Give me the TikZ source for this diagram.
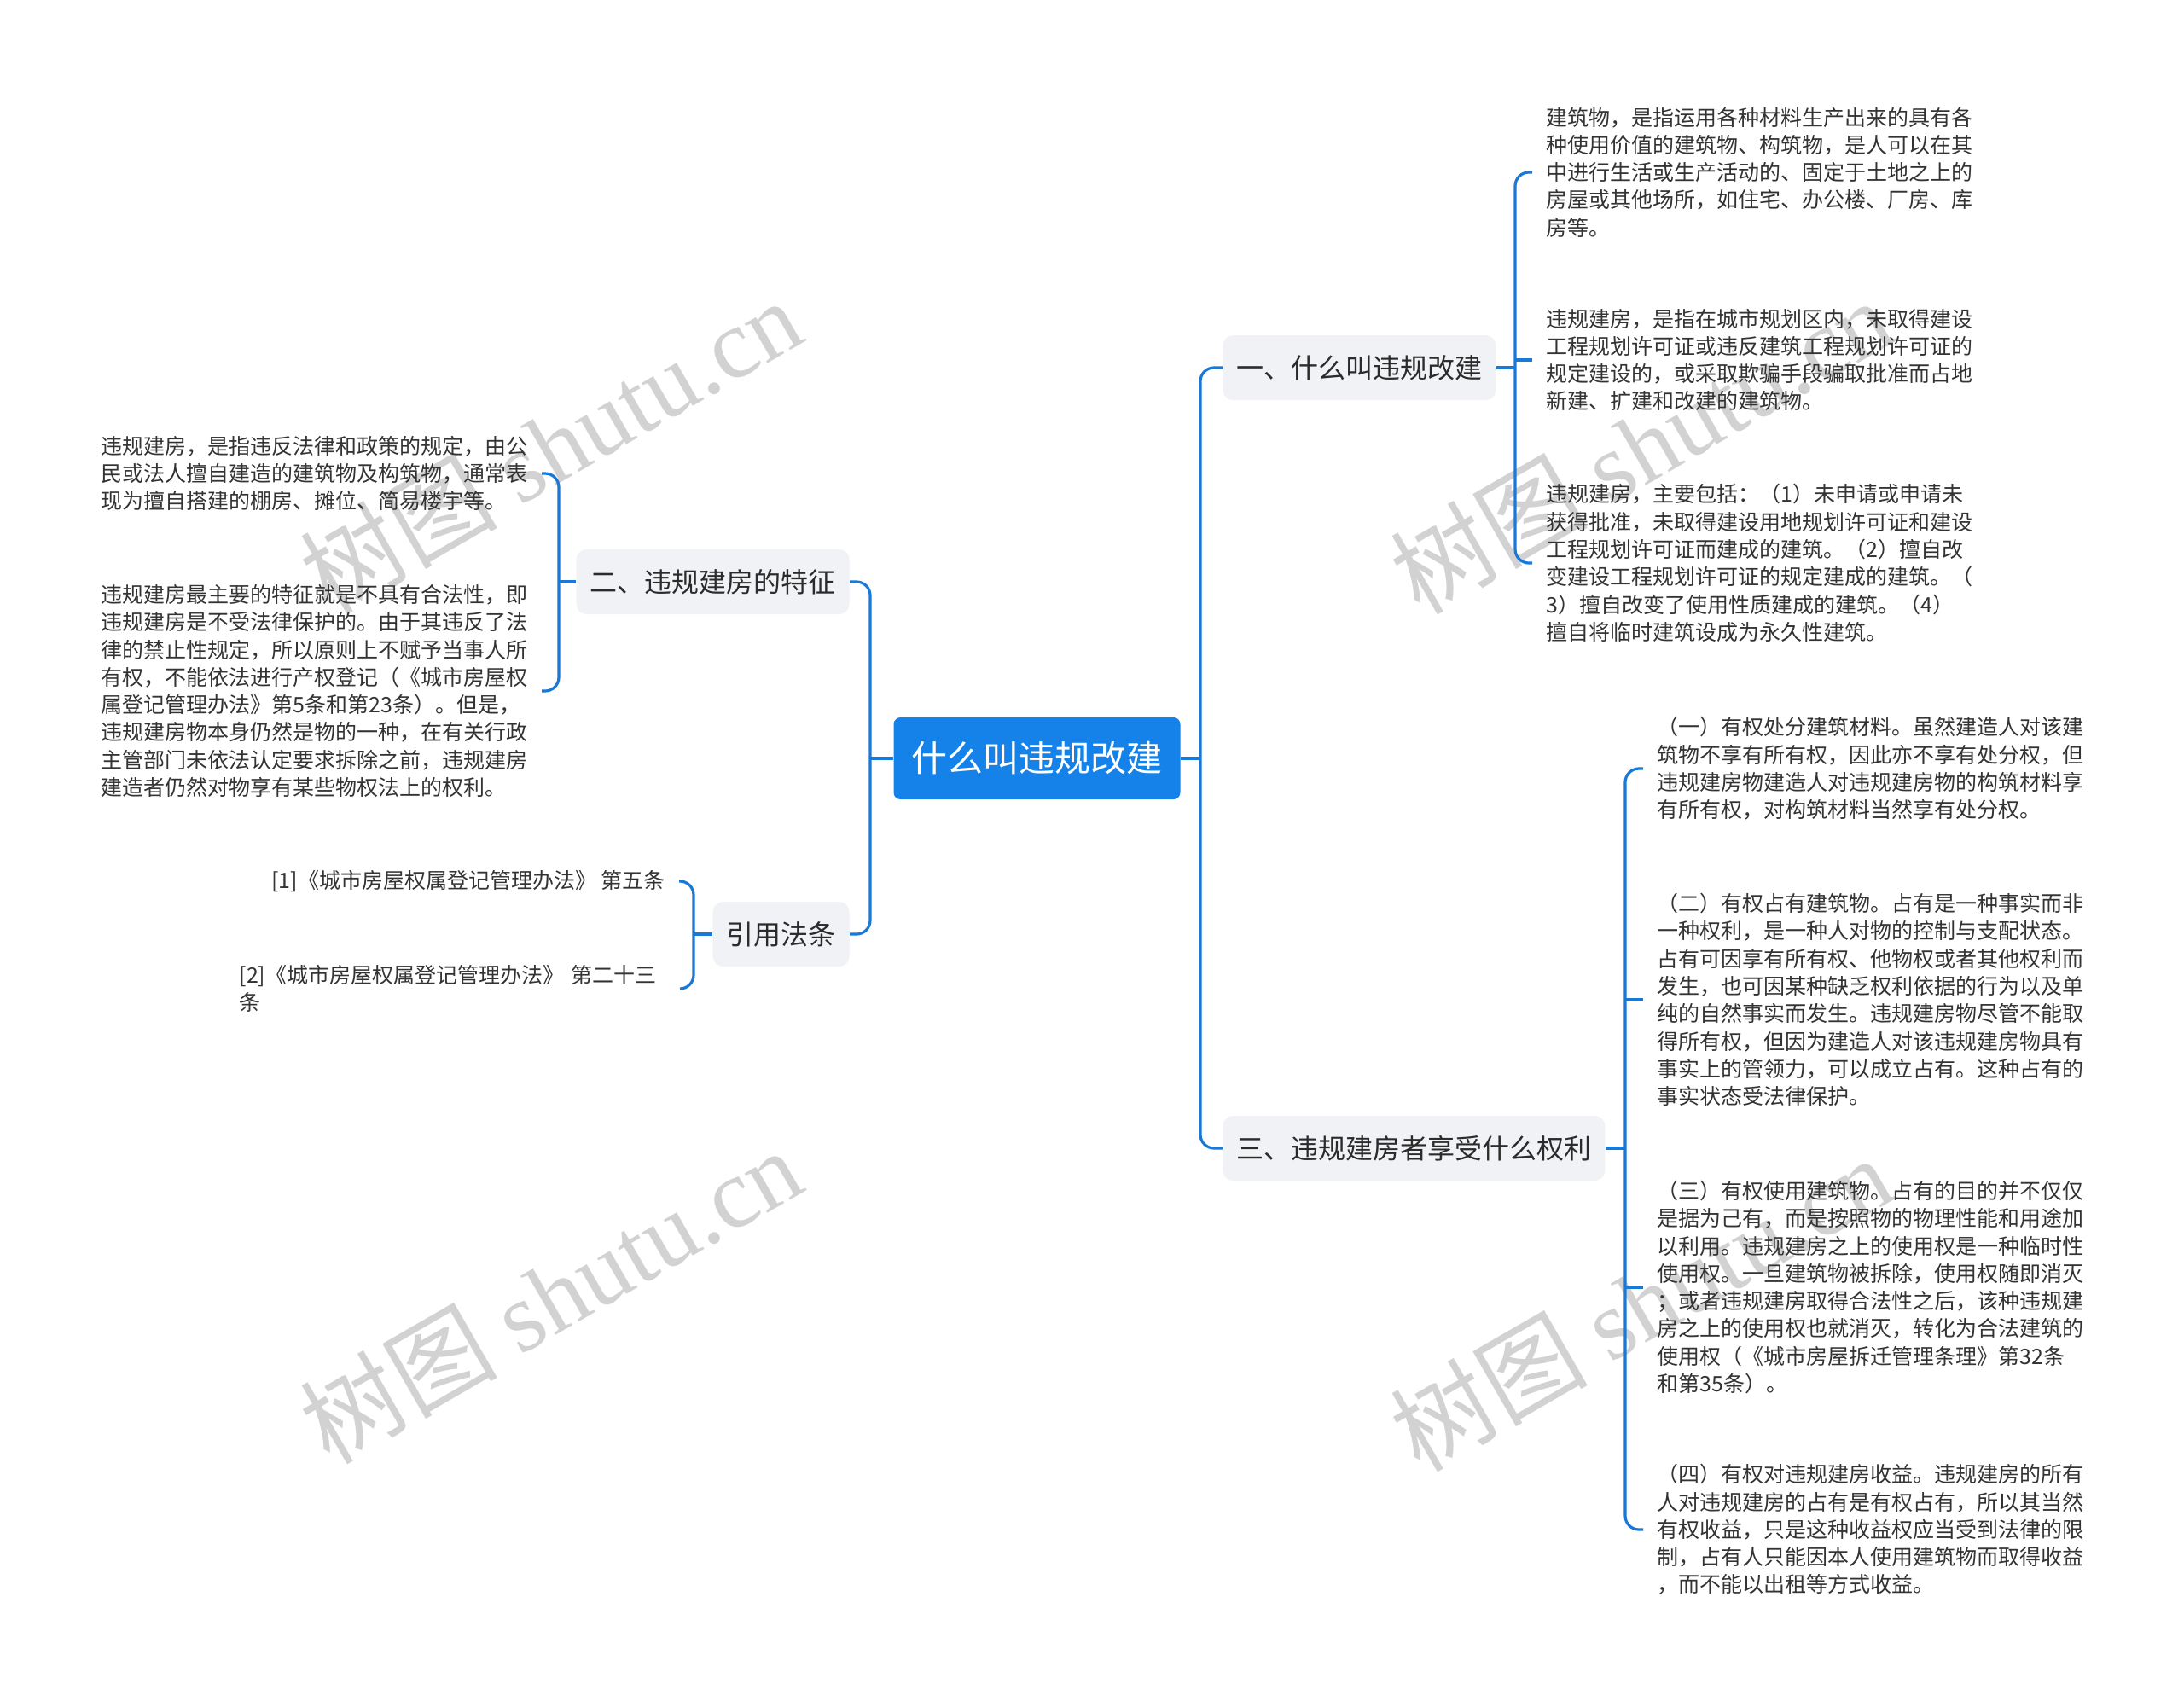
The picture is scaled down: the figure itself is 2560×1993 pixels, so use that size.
\documentclass[tikz,border=0pt]{standalone}
\usepackage{fontspec}
\setmainfont{Noto Sans CJK SC}
\newfontfamily\wmlatin{Liberation Serif}
\usetikzlibrary{calc}
\definecolor{connc}{HTML}{1A78D6}
\definecolor{mainblue}{HTML}{1482E8}
\definecolor{boxfill}{HTML}{F0F2F5}
\definecolor{txt}{HTML}{333333}
\definecolor{txtb}{HTML}{2B2B2B}
\definecolor{wmc}{HTML}{D2D2D2}
\begin{document}
\begin{tikzpicture}[x=0.5pt,y=-0.5pt,
  conn/.style={draw=connc, line width=1.6pt},
  rc/.style={conn, rounded corners=8pt},
  leaf/.style={font=\fontsize{12.5pt}{16.15pt}\selectfont, text=txt, align=left, inner xsep=8pt, inner ysep=0pt},
  branch/.style={fill=boxfill, rounded corners=6pt, font=\fontsize{16pt}{20pt}\selectfont, text=txtb, inner xsep=8pt, inner ysep=0pt, minimum height=38pt},
  central/.style={fill=mainblue, rounded corners=4pt, font=\fontsize{21pt}{24pt}\selectfont, text=white, inner xsep=10.5pt, inner ysep=0pt, minimum height=48pt},
  wm/.style={text=wmc, rotate=30, font=\fontsize{58pt}{60pt}\selectfont, inner sep=0pt}
]
\useasboundingbox (0,0) rectangle (2560,1993);
\fill[white] (0,0) rectangle (2560,1993);

% watermarks
\node[wm] (w1) at (645,522) {树图 {\wmlatin shutu.cn}};
\node[wm] (w2) at (1923,522) {树图 {\wmlatin shutu.cn}};
\node[wm] (w3) at (645,1518) {树图 {\wmlatin shutu.cn}};
\node[wm] (w4) at (1923,1527) {树图 {\wmlatin shutu.cn}};

% main nodes
\node[central] (c) at (1215.5,889) {什么叫违规改建};
\node[branch, anchor=west] (n1) at (1433,431) {一、什么叫违规改建};
\node[branch, anchor=west] (n3) at (1433,1346) {三、违规建房者享受什么权利};
\node[branch, anchor=east] (n2) at (996,682) {二、违规建房的特征};
\node[branch, anchor=east] (n4) at (996,1095) {引用法条};

% leaves of n1
\node[leaf, anchor=west] (a1) at (1796,202) {建筑物，是指运用各种材料生产出来的具有各\\种使用价值的建筑物、构筑物，是人可以在其\\中进行生活或生产活动的、固定于土地之上的\\房屋或其他场所，如住宅、办公楼、厂房、库\\房等。};
\node[leaf, anchor=west] (a2) at (1796,422) {违规建房，是指在城市规划区内，未取得建设\\工程规划许可证或违反建筑工程规划许可证的\\规定建设的，或采取欺骗手段骗取批准而占地\\新建、扩建和改建的建筑物。};
\node[leaf, anchor=west] (a3) at (1796,660) {违规建房，主要包括：（1）未申请或申请未\\获得批准，未取得建设用地规划许可证和建设\\工程规划许可证而建成的建筑。（2）擅自改\\变建设工程规划许可证的规定建成的建筑。（\\3）擅自改变了使用性质建成的建筑。（4）\\擅自将临时建筑设成为永久性建筑。};

% leaves of n3
\node[leaf, anchor=west] (b1) at (1926,901) {（一）有权处分建筑材料。虽然建造人对该建\\筑物不享有所有权，因此亦不享有处分权，但\\违规建房物建造人对违规建房物的构筑材料享\\有所有权，对构筑材料当然享有处分权。};
\node[leaf, anchor=west] (b2) at (1926,1172) {（二）有权占有建筑物。占有是一种事实而非\\一种权利，是一种人对物的控制与支配状态。\\占有可因享有所有权、他物权或者其他权利而\\发生，也可因某种缺乏权利依据的行为以及单\\纯的自然事实而发生。违规建房物尽管不能取\\得所有权，但因为建造人对该违规建房物具有\\事实上的管领力，可以成立占有。这种占有的\\事实状态受法律保护。};
\node[leaf, anchor=west] (b3) at (1926,1509) {（三）有权使用建筑物。占有的目的并不仅仅\\是据为己有，而是按照物的物理性能和用途加\\以利用。违规建房之上的使用权是一种临时性\\使用权。一旦建筑物被拆除，使用权随即消灭\\；或者违规建房取得合法性之后，该种违规建\\房之上的使用权也就消灭，转化为合法建筑的\\使用权（《城市房屋拆迁管理条理》第32条\\和第35条）。};
\node[leaf, anchor=west] (b4) at (1926,1793) {（四）有权对违规建房收益。违规建房的所有\\人对违规建房的占有是有权占有，所以其当然\\有权收益，只是这种收益权应当受到法律的限\\制，占有人只能因本人使用建筑物而取得收益\\，而不能以出租等方式收益。};

% leaves of n2
\node[leaf, anchor=east] (c1) at (635,555) {违规建房，是指违反法律和政策的规定，由公\\民或法人擅自建造的建筑物及构筑物，通常表\\现为擅自搭建的棚房、摊位、简易楼宇等。};
\node[leaf, anchor=east] (c2) at (635,810) {违规建房最主要的特征就是不具有合法性，即\\违规建房是不受法律保护的。由于其违反了法\\律的禁止性规定，所以原则上不赋予当事人所\\有权，不能依法进行产权登记（《城市房屋权\\属登记管理办法》第5条和第23条）。但是，\\违规建房物本身仍然是物的一种，在有关行政\\主管部门未依法认定要求拆除之前，违规建房\\建造者仍然对物享有某些物权法上的权利。};

% leaves of n4
\node[leaf, anchor=east] (d1) at (796,1033) {[1]《城市房屋权属登记管理办法》 第五条};
\node[leaf, anchor=east, text width=250pt] (d2) at (797,1159) {[2]《城市房屋权属登记管理办法》 第二十三\\条};

% junctions
\coordinate (jr) at (1407,889);
\coordinate (jl) at (1020,889);
\coordinate (j1) at (1776,431);
\coordinate (j3) at (1905,1346);
\coordinate (j2) at (655,682);
\coordinate (j4) at (813,1095);

% connectors
\draw[conn] (c.east) -- (jr);
\draw[rc] (jr) |- (n1.west);
\draw[rc] (jr) |- (n3.west);
\draw[conn] (c.west) -- (jl);
\draw[rc] (jl) |- (n2.east);
\draw[rc] (jl) |- (n4.east);

\draw[conn] (n1.east) -- (j1);
\draw[rc] (j1) |- (a1.west);
\draw[conn] (a2.west -| j1) -- (a2.west);
\draw[rc] (j1) |- (a3.west);

\draw[conn] (n3.east) -- (j3);
\draw[rc] (j3) |- (b1.west);
\draw[conn] (b2.west -| j3) -- (b2.west);
\draw[conn] (b3.west -| j3) -- (b3.west);
\draw[rc] (j3) |- (b4.west);

\draw[conn] (n2.west) -- (j2);
\draw[rc] (j2) |- (c1.east);
\draw[rc] (j2) |- (c2.east);

\draw[conn] (n4.west) -- (j4);
\draw[rc] (j4) |- (d1.east);
\draw[rc] (j4) |- (d2.east);
\end{tikzpicture}
\end{document}
